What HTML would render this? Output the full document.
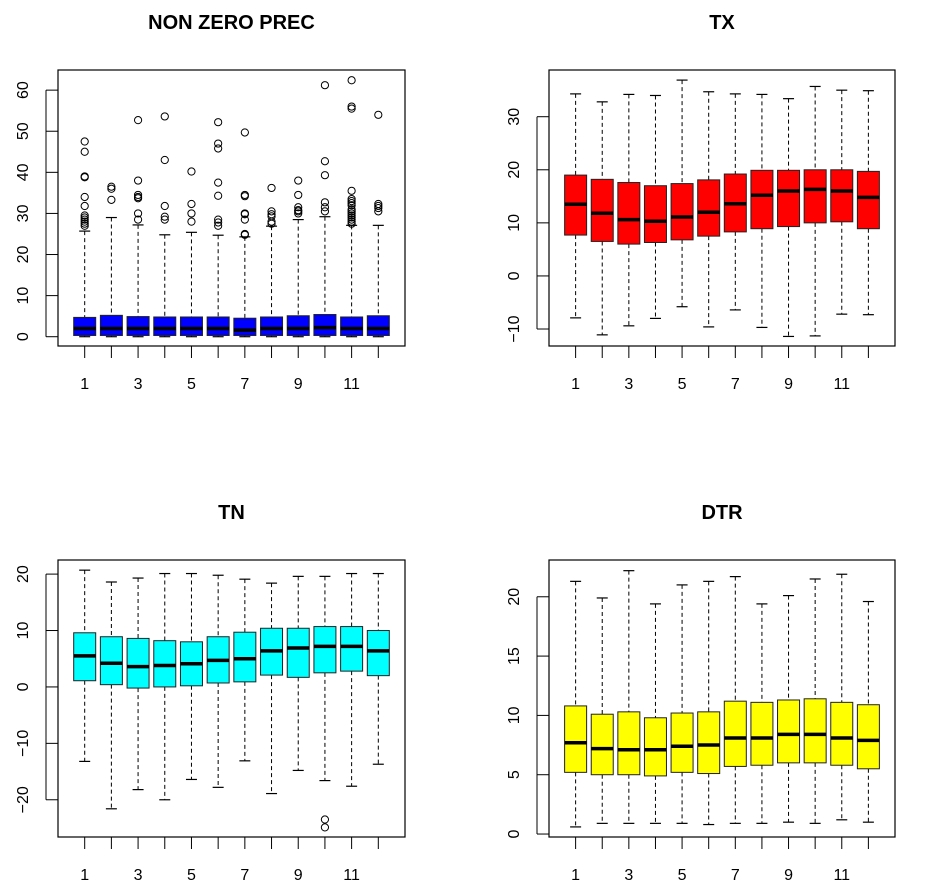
<!DOCTYPE html>
<html><head><meta charset="utf-8">
<style>
html,body{margin:0;padding:0;background:#fff;}
svg{display:block;font-family:"Liberation Sans",Arial,sans-serif;}
</style></head>
<body>
<svg id="chart" width="926" height="894" viewBox="0 0 926 894"></svg>
<script>
const months = [1,2,3,4,5,6,7,8,9,10,11,12];
const xTickLabels = ["1","","3","","5","","7","","9","","11",""];

// NON ZERO PREC
const precLow = [0,0,0,0,0,0,0,0,0,0,0,0];
const precQ1 = [0.3,0.3,0.3,0.3,0.3,0.3,0.3,0.3,0.3,0.3,0.3,0.3];
const precMed = [2,2,2,2,2,2,1.6,2,2,2.2,2,2];
const precQ3 = [4.7,5.2,4.9,4.8,4.8,4.8,4.5,4.8,5.1,5.4,4.8,5.1];
const precHigh = [25.7,29,27.2,24.8,25.4,24.7,24.3,26.9,28.5,29.2,27.1,27.1];
const precOut = [
 [47.5,45,39,38.8,34,31.8,29.5,29,28.5,28,27.5,27],
 [36.5,36,33.3],
 [52.7,38,34.5,34,33.7,30,28.5],
 [53.6,43,31.8,29.2,28.5],
 [40.2,32.3,30,28],
 [52.2,47,45.8,37.5,34.3,28.5,27.8,27],
 [49.7,34.5,34.2,30,29.8,28.5,25,24.8],
 [36.2,30.5,29.8,29.3,28,27.5],
 [38,34.5,31.5,30.8,30.5,30],
 [61.2,42.7,39.3,32.7,31.5,30.5],
 [62.4,56,55.5,35.5,33.5,33,32.5,32,31,30.5,30,29.5,29,28.5,28,27.5],
 [54,32.3,31.8,31.3,30.5]
];
const precTicks = [0,10,20,30,40,50,60];

// TX
const txLow = [-7.9,-11.1,-9.4,-8,-5.8,-9.6,-6.4,-9.7,-11.4,-11.3,-7.2,-7.3];
const txQ1 = [7.7,6.5,6,6.3,6.8,7.5,8.3,8.9,9.3,10,10.2,8.9];
const txMed = [13.5,11.8,10.6,10.3,11.1,12,13.6,15.2,16,16.3,16,14.8];
const txQ3 = [19,18.2,17.6,17,17.4,18.1,19.2,19.9,19.9,20,20,19.7];
const txHigh = [34.3,32.8,34.2,34,36.9,34.7,34.3,34.2,33.4,35.7,35,34.9];
const txTicks = [-10,0,10,20,30];

// TN
const tnLow = [-13.2,-21.6,-18.2,-20,-16.4,-17.8,-13.1,-18.9,-14.8,-16.6,-17.6,-13.7];
const tnQ1 = [1.1,0.4,-0.2,0,0.2,0.7,0.9,2.1,1.7,2.5,2.8,2];
const tnMed = [5.5,4.2,3.6,3.8,4.1,4.7,5,6.4,6.9,7.2,7.2,6.4];
const tnQ3 = [9.6,8.9,8.6,8.2,8,8.9,9.7,10.4,10.4,10.7,10.7,10];
const tnHigh = [20.7,18.6,19.3,20.1,20.1,19.8,19.1,18.4,19.6,19.6,20.1,20.1];
const tnOut = [[],[],[],[],[],[],[],[],[],[-23.5,-24.9],[],[]];
const tnTicks = [-20,-10,0,10,20];

// DTR
const dtrLow = [0.6,0.9,0.9,0.9,0.9,0.8,0.9,0.9,1,0.9,1.2,1];
const dtrQ1 = [5.2,5,5,4.9,5.2,5.1,5.7,5.8,6,6,5.8,5.5];
const dtrMed = [7.7,7.2,7.1,7.1,7.4,7.5,8.1,8.1,8.4,8.4,8.1,7.9];
const dtrQ3 = [10.8,10.1,10.3,9.8,10.2,10.3,11.2,11.1,11.3,11.4,11.1,10.9];
const dtrHigh = [21.3,19.9,22.2,19.4,21,21.3,21.7,19.4,20.1,21.5,21.9,19.6];
const dtrTicks = [0,5,10,15,20];

const NS = "http://www.w3.org/2000/svg";
const svg = document.getElementById('chart');
function mk(tag, attrs, parent){
  const e = document.createElementNS(NS, tag);
  for (const k in attrs) e.setAttribute(k, attrs[k]);
  (parent||svg).appendChild(e);
  return e;
}

function panel(cfg){
  const g = mk('g', {});
  
  
  const L=cfg.left, R=cfg.right, T=cfg.top, B=cfg.bottom;
  const yScale = v => T + (cfg.yMax - v) / (cfg.yMax - cfg.yMin) * (B - T);
  const step = (R - L) / 13;
  const xScale = i => L + (i + 1) * step;
  const bw = 22, cw = 11;

  const title = mk('text', {x:(L+R)/2, y:T-41, 'text-anchor':'middle', 'font-size':'20', 'font-weight':'bold', fill:'#000'}, g);
  title.textContent = cfg.title;
  
  

  // y axis
  const ya = mk('g', {}, g);
  
  
  const yt0 = yScale(cfg.ticks[0]), yt1 = yScale(cfg.ticks[cfg.ticks.length-1]);
  mk('line', {x1:L-12, x2:L-12, y1:yt0, y2:yt1, stroke:'#000', 'stroke-width':1}, ya);
  cfg.ticks.forEach(t => {
    const y = yScale(t);
    mk('line', {x1:L-12, x2:L, y1:y, y2:y, stroke:'#000', 'stroke-width':1}, ya);
    const tx = mk('text', {x:0, y:0, 'text-anchor':'middle', 'font-size':'16', fill:'#000',
      transform:`translate(${L-30},${y}) rotate(-90)`}, ya);
    tx.textContent = String(t).replace('-', '\u2212');
    
    
  });

  // x axis
  const xa = mk('g', {}, g);
  
  
  months.forEach((m, i) => {
    const x = xScale(i);
    mk('line', {x1:x, x2:x, y1:B, y2:B+12, stroke:'#000', 'stroke-width':1}, xa);
    if (xTickLabels[i]) {
      const tx = mk('text', {x:x, y:B+43, 'text-anchor':'middle', 'font-size':'16', fill:'#000'}, xa);
      tx.textContent = xTickLabels[i];
      
      
    }
  });

  // boxes
  months.forEach((m, i) => {
    const x = xScale(i);
    const bg = mk('g', {}, g);
    
    
    const yl = yScale(cfg.low[i]), yq1 = yScale(cfg.q1[i]), ym = yScale(cfg.med[i]),
          yq3 = yScale(cfg.q3[i]), yh = yScale(cfg.high[i]);
    mk('line', {x1:x, x2:x, y1:yh, y2:yq3, stroke:'#000', 'stroke-width':1, 'stroke-dasharray':'4,3'}, bg);
    mk('line', {x1:x, x2:x, y1:yq1, y2:yl, stroke:'#000', 'stroke-width':1, 'stroke-dasharray':'4,3'}, bg);
    mk('line', {x1:x-cw/2, x2:x+cw/2, y1:yh, y2:yh, stroke:'#000', 'stroke-width':1.2}, bg);
    mk('line', {x1:x-cw/2, x2:x+cw/2, y1:yl, y2:yl, stroke:'#000', 'stroke-width':1.2}, bg);
    mk('rect', {x:x-bw/2, y:yq3, width:bw, height:Math.max(1, yq1-yq3), fill:cfg.color, stroke:'#222', 'stroke-width':1}, bg);
    mk('line', {x1:x-bw/2, x2:x+bw/2, y1:ym, y2:ym, stroke:'#000', 'stroke-width':3.5}, bg);
    if (cfg.out) cfg.out[i].forEach(v => {
      const c = mk('circle', {cx:x, cy:yScale(v), r:3.6, fill:'none', stroke:'#000', 'stroke-width':1}, bg);
      
      
    });
  });

  const frame = mk('rect', {x:L, y:T, width:R-L, height:B-T, fill:'none', stroke:'#000', 'stroke-width':1.2}, g);
  
  
}

panel({name:'prec', title:'NON ZERO PREC', left:58, right:405, top:70, bottom:346, yMin:-2.26, yMax:64.9,
  ticks:precTicks, low:precLow, q1:precQ1, med:precMed, q3:precQ3, high:precHigh, out:precOut, color:'#0000ff'});
panel({name:'tx', title:'TX', left:549, right:895, top:70, bottom:346, yMin:-13.2, yMax:38.8,
  ticks:txTicks, low:txLow, q1:txQ1, med:txMed, q3:txQ3, high:txHigh, out:null, color:'#ff0000'});
panel({name:'tn', title:'TN', left:58, right:405, top:560, bottom:837, yMin:-26.6, yMax:22.5,
  ticks:tnTicks, low:tnLow, q1:tnQ1, med:tnMed, q3:tnQ3, high:tnHigh, out:tnOut, color:'#00ffff'});
panel({name:'dtr', title:'DTR', left:549, right:895, top:560, bottom:837, yMin:-0.25, yMax:23.1,
  ticks:dtrTicks, low:dtrLow, q1:dtrQ1, med:dtrMed, q3:dtrQ3, high:dtrHigh, out:null, color:'#ffff00'});
</script>
</body></html>
